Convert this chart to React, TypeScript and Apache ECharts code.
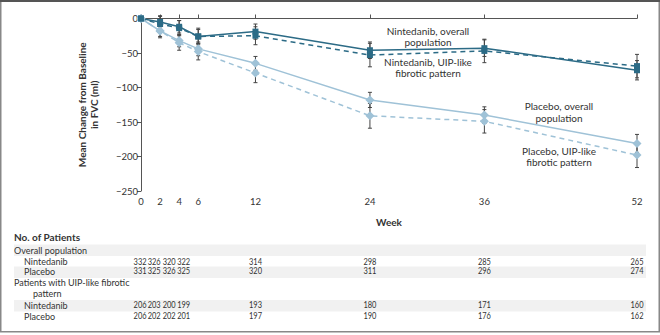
import React, { useEffect, useRef } from "react";
import * as echarts from "echarts";

const weeks = [0, 2, 4, 6, 12, 24, 36, 52];

const nintedanibOverall = [0, -5, -12, -26, -19, -46, -43, -75];
const nintedanibOverallErr = [0, 9, 9, 10, 11, 12, 12, 14];
const nintedanibUip = [0, -8, -14, -26, -25, -53, -47, -69];
const nintedanibUipErr = [0, 11, 11, 12, 13, 17, 17, 17];
const placeboOverall = [0, -18, -32, -44, -65, -118, -140, -181];
const placeboOverallErr = [0, 8, 9, 10, 10, 11, 12, 13];
const placeboUip = [0, -18, -35, -48, -79, -141, -149, -198];
const placeboUipErr = [0, 10, 11, 12, 14, 18, 17, 18];

const countsOverallNintedanib = [332, 326, 320, 322, 314, 298, 285, 265];
const countsOverallPlacebo = [331, 325, 326, 325, 320, 311, 296, 274];
const countsUipNintedanib = [206, 203, 200, 199, 193, 180, 171, 160];
const countsUipPlacebo = [206, 202, 202, 201, 197, 190, 176, 162];
// column centres on the week scale (first four columns are spread apart)
const countColumns = [-0.1, 1.38, 2.95, 4.47, 12, 24, 36, 52];

const DARK = "#2c6b86";
const LIGHT = "#9fc2d7";
const FONT = "Lato";
const TXT = "#333";

function errData(vals: number[], errs: number[]) {
  return weeks
    .map((w, i) => [w, vals[i] - errs[i], vals[i] + errs[i]])
    .filter((_, i) => errs[i] > 0);
}

function errorSeries(vals: number[], errs: number[]) {
  return {
    type: "custom",
    z: 1,
    silent: true,
    data: errData(vals, errs),
    renderItem: (params: any, api: any) => {
      const lo = api.coord([api.value(0), api.value(1)]);
      const hi = api.coord([api.value(0), api.value(2)]);
      const c = 2;
      const st = { stroke: "#444", lineWidth: 1 };
      return {
        type: "group",
        children: [
          { type: "line", shape: { x1: lo[0], y1: lo[1], x2: hi[0], y2: hi[1] }, style: st },
          { type: "line", shape: { x1: lo[0] - c, y1: lo[1], x2: lo[0] + c, y2: lo[1] }, style: st },
          { type: "line", shape: { x1: hi[0] - c, y1: hi[1], x2: hi[0] + c, y2: hi[1] }, style: st },
        ],
      };
    },
  };
}

function lineSeries(name: string, vals: number[], color: string, dashed: boolean, symbol: string, size: number) {
  return {
    name,
    type: "line",
    z: 3,
    data: weeks.map((w, i) => [w, vals[i]]),
    symbol,
    symbolSize: size,
    showAllSymbol: true,
    itemStyle: { color },
    lineStyle: { color, width: 1.5, type: dashed ? [5, 4] : "solid" },
  };
}

export default function App() {
  const ref = useRef<HTMLDivElement>(null);
  useEffect(() => {
    document.body.style.margin = "0";
    const chart = echarts.init(ref.current!, null, { renderer: "svg" });
    chart.setOption({
      animation: false,
      grid: { left: 141, right: 23, top: 18.5, bottom: 144 },
      xAxis: {
        type: "value",
        min: 0,
        max: 52,
        name: "Week",
        nameLocation: "middle",
        nameGap: 26,
        nameTextStyle: { fontFamily: FONT, fontSize: 10, fontWeight: "bold", color: TXT },
        axisLine: { lineStyle: { color: "#555", width: 1 } },
        axisTick: { inside: true, length: 4, customValues: weeks, lineStyle: { color: "#555" } },
        axisLabel: { customValues: weeks, fontFamily: FONT, fontSize: 9.5, color: TXT, margin: 5 },
        splitLine: { show: false },
      },
      yAxis: {
        type: "value",
        min: -250,
        max: 0,
        interval: 50,
        name: "Mean Change from Baseline\nin FVC (ml)",
        nameLocation: "middle",
        nameGap: 41,
        nameTextStyle: { fontFamily: FONT, fontSize: 10, fontWeight: "bold", color: TXT, lineHeight: 12 },
        axisLine: { show: true, lineStyle: { color: "#555", width: 1 } },
        axisTick: { show: true, length: 4, lineStyle: { color: "#555" } },
        axisLabel: {
          fontFamily: FONT,
          fontSize: 9.5,
          color: TXT,
          margin: 3,
          formatter: (v: number) => (v < 0 ? "\u2212" + Math.abs(v) : String(v)),
        },
        splitLine: { show: false },
      },
      series: [
        errorSeries(placeboOverall, placeboOverallErr),
        errorSeries(placeboUip, placeboUipErr),
        errorSeries(nintedanibOverall, nintedanibOverallErr),
        errorSeries(nintedanibUip, nintedanibUipErr),
        lineSeries("Placebo, UIP-like fibrotic pattern", placeboUip, LIGHT, true, "diamond", 9),
        lineSeries("Placebo, overall population", placeboOverall, LIGHT, false, "diamond", 9),
        lineSeries("Nintedanib, UIP-like fibrotic pattern", nintedanibUip, DARK, true, "rect", 6),
        lineSeries("Nintedanib, overall population", nintedanibOverall, DARK, false, "rect", 6),
      ],
    });

    const px = (w: number) => chart.convertToPixel({ xAxisIndex: 0 }, w) as number;
    const graphics: any[] = [];
    const bandLeft = 14;
    const bandRight = 646;
    [[244.5, 11.5], [266.5, 11.5], [300, 11.5]].forEach(([y, h]) => {
      graphics.push({ type: "rect", shape: { x: bandLeft, y, width: bandRight - bandLeft, height: h }, style: { fill: "#f1f1f1" }, z: 0 });
    });
    const label = (text: string, x: number, y: number, bold = false, align = "left", size = 9, sx = 1) => ({
      type: "text",
      x,
      y,
      z: 5,
      scaleX: sx,
      style: {
        text,
        fontFamily: FONT,
        fontSize: bold ? 10 : size,
        fontWeight: bold ? "bold" : "normal",
        fill: TXT,
        align,
        verticalAlign: "middle",
      },
    });
    graphics.push(label("No. of Patients", 14, 237, true));
    graphics.push(label("Overall population", 14, 250.5));
    graphics.push(label("Nintedanib", 24, 261.5));
    graphics.push(label("Placebo", 24, 271));
    graphics.push(label("Patients with UIP-like fibrotic", 14, 282));
    graphics.push(label("pattern", 33, 293));
    graphics.push(label("Nintedanib", 24, 305));
    graphics.push(label("Placebo", 24, 316));
    const rows: [number[], number][] = [
      [countsOverallNintedanib, 261.5],
      [countsOverallPlacebo, 271],
      [countsUipNintedanib, 305],
      [countsUipPlacebo, 316],
    ];
    rows.forEach(([vals, y]) => {
      vals.forEach((v, i) => graphics.push(label(String(v), px(countColumns[i]), y, false, "center", 9, 0.83)));
    });
    const annot = (text: string, x: number, y: number) => ({
      type: "text",
      x,
      y,
      z: 5,
      style: { text, fontFamily: FONT, fontSize: 10, fill: TXT, align: "center", verticalAlign: "middle", lineHeight: 11.5 },
    });
    graphics.push(annot("Nintedanib, overall\npopulation", 428, 36.5));
    graphics.push(annot("Nintedanib, UIP-like\nfibrotic pattern", 428, 67.5));
    graphics.push(annot("Placebo, overall\npopulation", 559, 112));
    graphics.push(annot("Placebo, UIP-like\nfibrotic pattern", 559, 156.5));
    graphics.push({ type: "rect", shape: { x: 0.75, y: 0.75, width: 658.5, height: 331 }, style: { fill: "none", stroke: "#888", lineWidth: 1.5 }, z: 10 });
    graphics.push({ type: "line", shape: { x1: 0, y1: 1, x2: 660, y2: 1 }, style: { stroke: "#555", lineWidth: 2 }, z: 11 });
    chart.setOption({ graphic: graphics });
    return () => chart.dispose();
  }, []);
  return <div ref={ref} style={{ width: 660, height: 335 }} />;
}
